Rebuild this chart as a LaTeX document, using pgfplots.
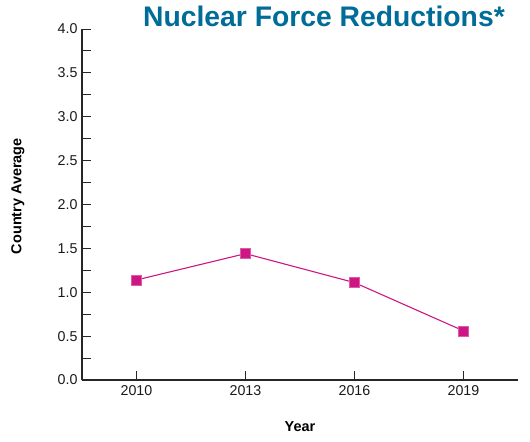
\documentclass[border=0pt]{standalone}
\usepackage{pgfplots}
\pgfplotsset{compat=1.18}
\usepackage{fontspec}
\setmainfont{Liberation Sans}
\definecolor{titleblue}{RGB}{0,108,152}
\definecolor{magentaline}{RGB}{205,22,131}
\begin{document}
\begin{tikzpicture}
\useasboundingbox (-82bp,-62bp) rectangle (448bp,380bp);
\begin{axis}[
  scale only axis,
  width=436bp, height=351bp,
  xmin=2008.5, xmax=2020.5,
  ymin=0, ymax=4,
  axis x line*=bottom,
  axis y line*=left,
  axis line style={line width=1.2pt, black!85},
  xtick={2010,2013,2016,2019},
  ytick={0,0.5,...,4},
  minor ytick={0.25,0.75,...,3.75},
  tick align=inside,
  major tick length=9bp,
  minor tick length=9bp,
  tick style={line width=1pt, black!85},
  /pgf/number format/assume math mode=true,
  xticklabel={\pgfmathprintnumber[1000 sep={}]{\tick}},
  yticklabel={\pgfmathprintnumber[fixed, fixed zerofill, precision=1]{\tick}},
  ticklabel style={font=\fontsize{14.3}{16}\selectfont, text=black!90},
  y tick label style={xshift=-1bp},
  x tick label style={yshift=-2bp},
  xlabel={\textbf{Year}},
  ylabel={\textbf{Country Average}},
  label style={font=\fontsize{14.5}{16}\selectfont},
  x label style={at={(axis description cs:0.5,-0.134)}, anchor=center},
  y label style={at={(axis description cs:-0.147,0.524)}, anchor=center},
  clip=false,
]
\addplot[color=magentaline, line width=1.1pt, mark=square*, mark size=5bp,
  mark options={fill=magentaline, draw=magentaline!70!white, line width=0.6pt}]
  coordinates {(2010,1.14) (2013,1.44) (2016,1.11) (2019,0.56)};
\end{axis}
\node[anchor=base east, text=titleblue, font=\fontsize{28.4}{30}\selectfont\bfseries, inner sep=0pt] at (423bp,353bp) {Nuclear Force Reductions*};
\end{tikzpicture}
\end{document}
